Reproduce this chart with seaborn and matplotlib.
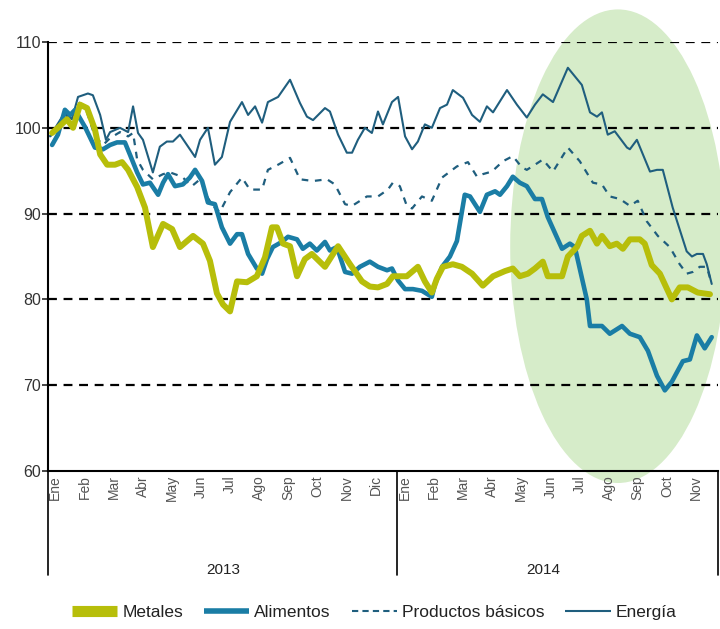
import matplotlib
matplotlib.use("Agg")
import matplotlib.pyplot as plt
import seaborn as sns
import pandas as pd
from matplotlib.lines import Line2D
from matplotlib.patches import Ellipse

# ---------------------------------------------------------------
# Data (x in months since Jan 2013)
# ---------------------------------------------------------------
months = ["Ene", "Feb", "Mar", "Abr", "May", "Jun", "Jul", "Ago", "Sep", "Oct", "Nov", "Dic",
          "Ene", "Feb", "Mar", "Abr", "May", "Jun", "Jul", "Ago", "Sep", "Oct", "Nov"]
years = ["2013", "2014"]

energia_x = [0.07, 0.34, 0.58, 0.82, 1.03, 1.37, 1.54, 1.79, 1.99, 2.13, 2.47, 2.75, 2.92, 3.09,
             3.26, 3.60, 3.84, 4.08, 4.29, 4.53, 4.81, 5.05, 5.22, 5.49, 5.73, 5.97, 6.25, 6.66,
             6.87, 7.11, 7.35, 7.55, 7.90, 8.31, 8.65, 8.89, 9.10, 9.51, 9.68, 9.96, 10.26, 10.44,
             10.64, 10.88, 11.12, 11.33, 11.50, 11.81, 12.02, 12.26, 12.50, 12.70, 12.94, 13.18,
             13.46, 13.70, 13.90, 14.25, 14.56, 14.83, 15.07, 15.28, 15.76, 16.10, 16.44, 16.72,
             16.99, 17.34, 17.85, 18.33, 18.61, 18.85, 19.02, 19.22, 19.46, 19.88, 19.98, 20.22,
             20.67, 20.91, 21.11, 21.45, 21.93, 22.11, 22.28, 22.49, 22.62, 22.79]
energia = [99.0, 100.5, 101.8, 101.0, 103.6, 104.0, 103.8, 101.5, 98.6, 99.5, 100.0, 99.5, 102.5, 99.4,
           98.6, 94.8, 97.8, 98.4, 98.4, 99.2, 97.8, 96.6, 98.6, 100.0, 95.7, 96.6, 100.7, 103.0,
           101.5, 102.5, 100.6, 103.0, 103.6, 105.6, 102.9, 101.3, 100.9, 102.3, 101.9, 99.2, 97.1, 97.1,
           98.6, 100.0, 99.4, 101.9, 100.4, 103.0, 103.6, 99.0, 97.5, 98.4, 100.4, 100.0,
           102.3, 102.7, 104.4, 103.5, 101.5, 100.7, 102.5, 101.8, 104.4, 102.7, 101.2, 102.7,
           103.9, 103.0, 107.0, 105.0, 101.8, 101.3, 101.8, 99.2, 99.6, 97.7, 97.5, 98.6,
           94.9, 95.1, 95.1, 90.7, 85.6, 85.0, 85.3, 85.3, 84.1, 81.8]

productos_x = [0.07, 0.34, 0.58, 0.82, 1.03, 1.27, 1.61, 1.89, 2.13, 2.47, 2.75, 2.92, 3.06, 3.26,
               3.60, 3.95, 4.19, 4.60, 4.94, 5.22, 5.46, 5.66, 5.90, 6.25, 6.66, 6.93, 7.35, 7.55,
               7.90, 8.31, 8.65, 9.10, 9.58, 9.85, 10.20, 10.44, 10.95, 11.33, 11.67, 11.84, 12.08,
               12.32, 12.50, 12.84, 13.18, 13.53, 14.04, 14.42, 14.73, 14.93, 15.24, 15.62, 15.96,
               16.27, 16.44, 16.72, 16.99, 17.34, 17.85, 18.26, 18.71, 19.02, 19.29, 19.64, 19.98,
               20.25, 20.56, 20.94, 21.35, 21.69, 21.93, 22.14, 22.38, 22.62, 22.79]
productos = [99.0, 100.0, 101.5, 101.0, 103.0, 102.5, 99.0, 98.0, 98.8, 99.5, 99.0, 99.4, 96.3, 95.1,
             94.0, 94.6, 94.8, 94.3, 93.2, 94.0, 92.0, 90.9, 90.2, 92.5, 94.2, 92.8, 92.8, 95.1,
             95.7, 96.5, 94.0, 93.8, 94.0, 93.4, 91.1, 90.9, 92.0, 92.0, 92.8, 93.6, 93.2,
             90.9, 90.6, 92.0, 91.5, 94.2, 95.5, 96.0, 94.3, 94.6, 94.9, 96.1, 96.7,
             95.4, 95.1, 95.7, 96.3, 94.9, 97.7, 96.1, 93.6, 93.4, 92.0, 91.7, 90.9,
             91.5, 89.1, 87.4, 86.1, 84.1, 83.0, 83.2, 83.8, 83.8, 81.8]

alimentos_x = [0.14, 0.34, 0.58, 0.76, 0.93, 1.03, 1.27, 1.61, 1.89, 2.13, 2.37, 2.64, 2.81, 3.06,
               3.26, 3.50, 3.78, 3.95, 4.12, 4.36, 4.63, 4.87, 5.05, 5.29, 5.49, 5.73, 5.97, 6.25,
               6.49, 6.66, 6.87, 7.17, 7.35, 7.52, 7.72, 8.03, 8.24, 8.55, 8.75, 8.99, 9.23, 9.51,
               9.68, 9.92, 10.20, 10.44, 10.71, 11.05, 11.33, 11.64, 11.81, 12.02, 12.26, 12.53,
               12.84, 13.18, 13.29, 13.53, 13.80, 14.04, 14.31, 14.49, 14.83, 15.07, 15.35, 15.52,
               15.76, 15.96, 16.20, 16.44, 16.72, 16.96, 17.16, 17.65, 17.92, 18.09, 18.50, 18.61,
               19.02, 19.29, 19.71, 19.98, 20.32, 20.60, 20.91, 21.18, 21.42, 21.80, 22.04, 22.28,
               22.55, 22.79]
alimentos = [98.0, 99.2, 102.1, 101.5, 102.1, 101.5, 100.1, 97.7, 97.5, 98.0, 98.3, 98.3, 96.9, 94.8,
             93.4, 93.6, 92.2, 93.6, 94.6, 93.2, 93.4, 94.2, 95.1, 93.8, 91.3, 91.1, 88.4, 86.5,
             87.6, 87.6, 85.3, 83.6, 83.0, 84.7, 86.1, 86.7, 87.3, 87.0, 85.9, 86.5, 85.7, 86.7,
             85.7, 86.1, 83.2, 83.0, 83.8, 84.4, 83.8, 83.4, 83.6, 82.2, 81.2, 81.2,
             81.0, 80.3, 81.8, 83.8, 85.0, 86.8, 92.2, 92.0, 90.2, 92.2, 92.6, 92.2,
             93.2, 94.3, 93.6, 93.2, 91.7, 91.7, 89.6, 85.9, 86.5, 86.1, 80.0, 76.9,
             76.9, 76.0, 76.9, 76.0, 75.6, 74.0, 71.1, 69.4, 70.4, 72.8, 73.0, 75.8,
             74.3, 75.6]

metales_x = [0.14, 0.34, 0.65, 0.86, 1.10, 1.34, 1.61, 1.79, 2.03, 2.30, 2.54, 2.75, 3.06, 3.33,
             3.60, 3.95, 4.26, 4.53, 4.98, 5.32, 5.56, 5.80, 6.01, 6.25, 6.49, 6.83, 7.17, 7.45,
             7.69, 7.86, 8.07, 8.31, 8.55, 8.82, 9.06, 9.51, 9.96, 10.37, 10.78, 11.05, 11.33,
             11.64, 11.84, 12.32, 12.70, 12.94, 13.18, 13.35, 13.56, 13.90, 14.21, 14.56, 14.93,
             15.28, 15.69, 15.96, 16.20, 16.48, 16.72, 16.99, 17.16, 17.65, 17.85, 18.16, 18.33,
             18.61, 18.85, 19.02, 19.29, 19.53, 19.74, 19.98, 20.32, 20.49, 20.73, 21.01, 21.42,
             21.69, 21.97, 22.31, 22.73]
metales = [99.4, 100.0, 101.0, 100.0, 102.7, 102.3, 99.8, 96.9, 95.7, 95.7, 96.0, 95.1, 93.1, 90.7,
           86.1, 88.8, 88.2, 86.1, 87.4, 86.5, 84.5, 80.7, 79.4, 78.6, 82.1, 82.0, 82.7, 84.9,
           88.4, 88.4, 86.5, 86.2, 82.7, 84.7, 85.3, 83.8, 86.2, 84.1, 82.1, 81.5, 81.4,
           81.8, 82.7, 82.7, 83.8, 82.1, 80.8, 82.4, 83.8, 84.1, 83.8, 83.0, 81.6,
           82.7, 83.3, 83.6, 82.7, 83.0, 83.6, 84.4, 82.7, 82.7, 85.0, 86.1, 87.4,
           88.0, 86.5, 87.4, 86.2, 86.5, 85.9, 87.0, 87.0, 86.5, 84.0, 83.0, 80.0,
           81.4, 81.4, 80.8, 80.6]

# ---------------------------------------------------------------
# Style
# ---------------------------------------------------------------
sns.set_style("white")
plt.rcParams['font.family'] = ['Liberation Sans', 'DejaVu Sans']

c_met = '#B7BE0A'
c_ali = '#1A7DA5'
c_ene = '#1F5E7E'
text_c = '#333333'

fig = plt.figure(figsize=(7.2, 6.29), dpi=100)
ax = fig.add_axes([0.0667, 0.2512, 0.9303, 0.682])

# green highlight ellipse (2014 second half)
ell = Ellipse((19.57, 86.2), 7.4, 55.2, facecolor='#D6ECC9', edgecolor='none',
              zorder=0, clip_on=False)
ax.add_patch(ell)

# dashed grid
for yv in [70, 80, 90, 100, 110]:
    ax.axhline(yv, color='black', lw=1.6, ls=(0, (4, 3)), zorder=1)

sns.lineplot(x=energia_x, y=energia, ax=ax, color=c_ene, lw=1.5, sort=False, zorder=3)
sns.lineplot(x=productos_x, y=productos, ax=ax, color=c_ene, lw=1.6, sort=False, zorder=3,
             linestyle=(0, (3, 3)))
sns.lineplot(x=alimentos_x, y=alimentos, ax=ax, color=c_ali, lw=3.3, sort=False, zorder=4)
sns.lineplot(x=metales_x, y=metales, ax=ax, color=c_met, lw=4.3, sort=False, zorder=5)

ax.set_xlim(0, 23)
ax.set_ylim(60, 110)
ax.set_yticks([60, 70, 80, 90, 100, 110])
ax.tick_params(axis='y', labelsize=11.5, labelcolor=text_c, length=4, width=1.2,
               direction='out', left=True, pad=1)
for s in ['top', 'right']:
    ax.spines[s].set_visible(False)
ax.spines['left'].set_color('black')
ax.spines['left'].set_linewidth(1.5)
ax.spines['bottom'].set_color('black')
ax.spines['bottom'].set_linewidth(1.5)

# month tick labels
ax.set_xticks([i + 0.25 for i in range(len(months))])
ax.set_xticklabels(months, rotation=90, fontsize=10, color='#555555')
ax.tick_params(axis='x', length=0, pad=3)

# year separators and labels
trans = ax.get_xaxis_transform()
for xv in [0, 12, 23]:
    ax.plot([xv, xv], [0, -0.243], color='black', lw=1.2, transform=trans, clip_on=False)
ax.text(6, -0.23, years[0], transform=trans, ha='center', va='center', fontsize=11, color='#222222')
ax.text(17, -0.23, years[1], transform=trans, ha='center', va='center', fontsize=11, color='#222222')

ax.set_xlabel("")
ax.set_ylabel("")

handles = [
    Line2D([], [], color=c_met, lw=8, solid_capstyle='butt'),
    Line2D([], [], color=c_ali, lw=4, solid_capstyle='butt'),
    Line2D([], [], color=c_ene, lw=1.5, linestyle=(0, (3, 2))),
    Line2D([], [], color=c_ene, lw=1.5, solid_capstyle='butt'),
]
labels = ["Metales", "Alimentos", "Productos básicos", "Energía"]
fig.legend(handles, labels, loc='center', bbox_to_anchor=(0.52, 0.027), ncol=4, frameon=False,
           fontsize=12.5, handlelength=2.6, columnspacing=1.2, handletextpad=0.3,
           labelcolor='#222222')

plt.savefig("out.png", dpi=100)
